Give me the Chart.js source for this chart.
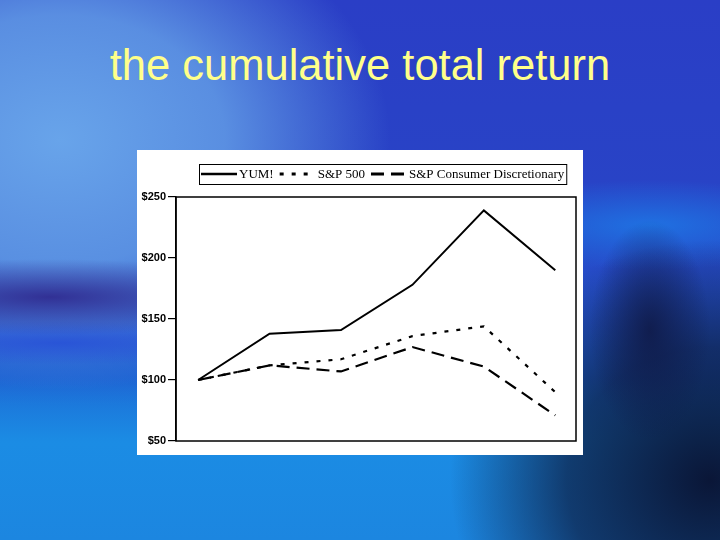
<!DOCTYPE html>
<html>
<head>
<meta charset="utf-8">
<script src="https://cdn.jsdelivr.net/npm/chart.js@4/dist/chart.umd.min.js"></script>
<style>
  html, body { margin: 0; padding: 0; }
  body {
    width: 720px; height: 540px; overflow: hidden; position: relative;
    background:
      radial-gradient(ellipse 60px 110px at 650px 330px, rgba(15,25,70,0.85), rgba(15,25,70,0) 100%),
      radial-gradient(ellipse 260px 240px at 710px 480px, rgba(10,22,55,1), rgba(12,26,62,0.7) 55%, rgba(12,26,62,0) 100%),
      radial-gradient(ellipse 190px 45px at 650px 225px, rgba(30,120,230,0.85), rgba(30,120,230,0) 100%),
      radial-gradient(ellipse 250px 38px at 50px 297px, rgba(48,44,145,0.95), rgba(48,44,145,0) 100%),
      radial-gradient(ellipse 220px 22px at 60px 343px, rgba(38,78,215,0.8), rgba(38,78,215,0) 100%),
      radial-gradient(ellipse 330px 250px at 60px 140px, rgba(104,164,234,1) 0%, rgba(98,156,230,0.85) 50%, rgba(98,156,230,0) 100%),
      linear-gradient(180deg, rgba(27,140,228,0) 0%, rgba(27,140,228,0) 70%, rgba(27,140,228,1) 82%, rgba(28,134,224,1) 100%),
      linear-gradient(180deg, #2a3ec6 0%, #2844c6 40%, #2454cc 60%, #1c6cd6 75%, #1b80dc 100%);
  }
  #title {
    position: absolute; left: 0; width: 720px; top: 35px;
    text-align: center; font: 43.5px "Liberation Sans", Arial, sans-serif;
    color: #ffff8a; line-height: 60px;
  }
  #panel {
    position: absolute; left: 137px; top: 150px; width: 446px; height: 305px;
    background: #ffffff;
  }
</style>
</head>
<body>
<div id="title">the cumulative total return</div>
<div id="panel"><canvas id="returnChart" width="446" height="305"></canvas></div>
<script>
// fiscal year ends (not shown on the axis in the original)
const years = ['2003', '2004', '2005', '2006', '2007', '2008'];
const seriesNames = ['YUM!', 'S&P 500', 'S&P Consumer Discretionary'];
const yumValues = [100, 138, 141, 178, 239, 190];
const sp500Values = [100, 112, 117, 136, 144, 90];
const consDiscValues = [100, 112, 107, 127, 111, 71];
const yTicks = [50, 100, 150, 200, 250];

function toPoints(values) {
  return values.map((v, i) => ({ x: i, y: v }));
}

// box around the plot area
const plotFrame = {
  id: 'plotFrame',
  afterDatasetsDraw(chart) {
    const a = chart.chartArea;
    const ctx = chart.ctx;
    ctx.save();
    ctx.strokeStyle = '#000';
    ctx.lineWidth = 1.5;
    ctx.strokeRect(a.left, a.top, a.right - a.left, a.bottom - a.top);
    ctx.restore();
  }
};

// boxed legend above the plot, like the original
const boxedLegend = {
  id: 'boxedLegend',
  afterDraw(chart) {
    const a = chart.chartArea;
    const ctx = chart.ctx;
    const sample = 36;
    const left = a.left + 23;
    const top = a.top - 33;
    const h = 20;
    const cy = top + h / 2;
    ctx.save();
    ctx.font = '13px "Liberation Serif", "Times New Roman", serif';
    ctx.textBaseline = 'middle';
    ctx.fillStyle = '#000';
    let x = left + 2;
    chart.data.datasets.forEach((ds, i) => {
      ctx.strokeStyle = '#000';
      ctx.lineWidth = ds.borderWidth + 0.6;
      ctx.setLineDash(ds.borderDash || []);
      ctx.beginPath();
      ctx.moveTo(x, cy);
      ctx.lineTo(x + sample, cy);
      ctx.stroke();
      ctx.setLineDash([]);
      x += sample + 2;
      ctx.fillText(ds.label, x, cy + 1);
      x += ctx.measureText(ds.label).width + 6;
    });
    ctx.lineWidth = 1;
    ctx.strokeRect(left + 0.5, top + 0.5, x - left - 4, h);
    ctx.restore();
  }
};

new Chart(document.getElementById('returnChart').getContext('2d'), {
  type: 'line',
  data: {
    datasets: [{
      label: seriesNames[0],
      data: toPoints(yumValues),
      borderColor: '#000',
      borderWidth: 2,
      borderDash: []
    }, {
      label: seriesNames[1],
      data: toPoints(sp500Values),
      borderColor: '#000',
      borderWidth: 2.2,
      borderDash: [4, 8]
    }, {
      label: seriesNames[2],
      data: toPoints(consDiscValues),
      borderColor: '#000',
      borderWidth: 2.2,
      borderDash: [13, 7]
    }]
  },
  options: {
    responsive: false,
    animation: false,
    events: [],
    elements: { point: { radius: 0 }, line: { tension: 0 } },
    layout: { padding: { left: 0, right: 7, top: 47, bottom: 14 } },
    plugins: { legend: { display: false }, tooltip: { enabled: false } },
    scales: {
      x: {
        type: 'linear',
        min: -0.31,
        max: 5.29,
        display: false
      },
      y: {
        min: yTicks[0],
        max: yTicks[yTicks.length - 1],
        afterBuildTicks(scale) {
          scale.ticks = yTicks.map(v => ({ value: v }));
        },
        afterFit(scale) { scale.width = 39; },
        border: { display: true, color: '#000', width: 1.5 },
        grid: { drawOnChartArea: false, color: '#000', tickLength: 8, lineWidth: 1.2 },
        ticks: {
          padding: 2,
          color: '#000',
          font: { family: '"Liberation Sans", Arial, sans-serif', size: 11, weight: 'bold' },
          callback: v => '$' + v
        }
      }
    }
  },
  plugins: [plotFrame, boxedLegend]
});
</script>
</body>
</html>
